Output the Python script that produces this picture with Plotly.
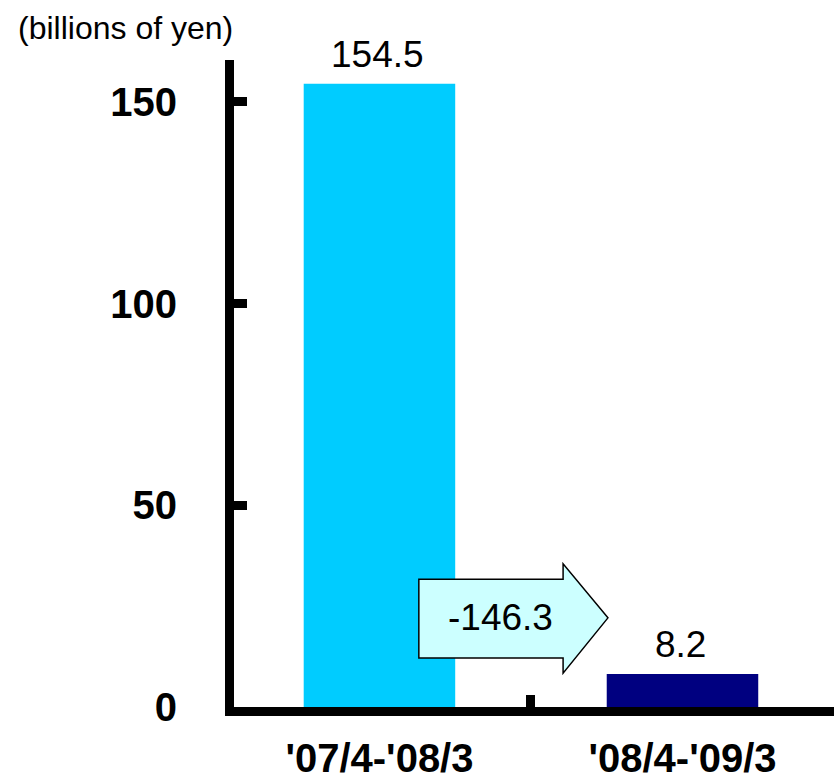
import plotly.graph_objects as go

categories = ["'07/4-'08/3", "'08/4-'09/3"]
values = [154.5, 8.2]
bar_colors = ["#00CCFF", "#000080"]
y_ticks = [0, 50, 100, 150]
unit_label = "(billions of yen)"

NARROW = "Liberation Sans Narrow, Arial Narrow, Liberation Sans, Arial, sans-serif"
SANS = "Liberation Sans, Arial, sans-serif"

W, H = 834, 782
ml, mr, mt, mb = 234, 0, 60, 75
pw, ph = W - ml - mr, H - mt - mb

fig = go.Figure()
fig.add_trace(go.Bar(
    x=categories, y=values, marker=dict(color=bar_colors, line=dict(width=0)),
    width=0.5, hoverinfo="skip",
))

# value labels above bars
for c, v in zip(categories, values):
    fig.add_annotation(x=c, y=v, text=f"{v:.1f}", showarrow=False,
                       xanchor="center", yanchor="middle", yshift=29, xshift=-2,
                       font=dict(family=NARROW, size=37, color="black"))

# difference arrow (block arrow between bars)
x0, xh, xt = 0.130, 0.606, 0.754
yb_top, yb_bot, yh_top, yh_bot, ytip = 31.7, 12.15, 35.5, 8.4, 22.1
path = (f"M {x0},{yb_bot} L {x0},{yb_top} L {xh},{yb_top} L {xh},{yh_top} "
        f"L {xt},{ytip} L {xh},{yh_bot} L {xh},{yb_bot} Z")
fig.add_shape(type="path", path=path, xref="x", yref="y",
              fillcolor="#CCFFFF", line=dict(color="black", width=1.5), layer="above")
diff = values[1] - values[0]
fig.add_annotation(x=0.398, y=ytip, text=f"{diff:.1f}", showarrow=False,
                   xanchor="center", yanchor="middle",
                   font=dict(family=NARROW, size=37, color="black"))

# unit label (top-left, pixel position converted to paper coords)
fig.add_annotation(xref="paper", yref="paper",
                   x=(125 - ml) / pw, y=(H - mb - 28) / ph,
                   xanchor="center", yanchor="middle",
                   text=unit_label, showarrow=False,
                   font=dict(family=SANS, size=32, color="black"))

fig.update_layout(
    width=W, height=H, margin=dict(l=ml, r=mr, t=mt, b=mb),
    paper_bgcolor="white", plot_bgcolor="white", showlegend=False,
)
fig.update_xaxes(
    type="category", range=[-0.48, 1.5], autorange=False,
    showline=True, linecolor="black", linewidth=9,
    ticks="inside", tickson="boundaries", ticklen=12, tickwidth=9, tickcolor="black",
    tickfont=dict(family=SANS, size=40, color="black", weight="bold"),
    ticklabelstandoff=8,
    showgrid=False, zeroline=False, fixedrange=True,
)
fig.update_yaxes(
    range=[0, 160.4], autorange=False, tickvals=y_ticks,
    showline=True, linecolor="black", linewidth=9,
    ticks="inside", ticklen=13, tickwidth=9, tickcolor="black",
    tickfont=dict(family=SANS, size=40, color="black", weight="bold"),
    ticklabelstandoff=40,
    showgrid=False, zeroline=False, fixedrange=True,
)

fig.write_html("out.html", config={"displayModeBar": False})
